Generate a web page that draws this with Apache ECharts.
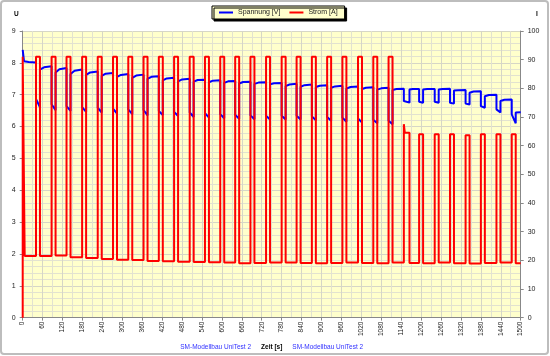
<!DOCTYPE html>
<html>
<head>
<meta charset="utf-8">
<script src="https://cdn.jsdelivr.net/npm/echarts@6/dist/echarts.min.js"></script>
<style>
html,body{margin:0;padding:0;background:#fff;}
#chart{width:550px;height:356px;}
</style>
</head>
<body>
<div id="chart"></div>
<script>
// ---- Data ----
const xTicks = { min: 0, max: 1500, step: 60 };
const leftTicks = { min: 0, max: 9, step: 1 };
const rightTicks = { min: 0, max: 100, step: 10 };

// start of the test
const initCurrent = [[0, 0], [0, 91], [6, 91]];
const initVolt = [[0, 8.41], [3, 8.38], [4, 8.05]];
const firstRestStart = 6;

// load pulses (s)
const pulseStart = [40, 87, 132, 179, 226, 272, 318, 364, 410, 456, 503, 549, 595, 640, 686, 733,
  780, 825, 871, 917, 963, 1010, 1056, 1102, 1148, 1194, 1241, 1287, 1334, 1380, 1427, 1473];
const pulseEnd = [52, 99, 144, 191, 238, 284, 330, 376, 422, 468, 515, 561, 607, 652, 698, 745,
  792, 837, 883, 929, 975, 1022, 1068, 1114, 1165, 1206, 1253, 1299, 1346, 1392, 1439, 1485];
const pulseCurrent = [91, 91, 91, 91, 91, 91, 91, 91, 91, 91, 91, 91, 91, 91, 91, 91,
  91, 91, 91, 91, 91, 91, 91, 91, 64.5, 64, 64, 64, 63.6, 64, 64, 64];
const spikeIndex = [24];
const spikeValue = [67.5];
const spikeEnd = [1151];

// current during the rest phases (33 phases, last one after final pulse)
const restCurrent = [21.5, 21.5, 21.7, 21.1, 20.8, 20.5, 20.2, 20.1, 19.8, 19.7, 19.5, 19.4, 19.3, 19.2, 19.0, 19.1,
  19.2, 19.2, 19.1, 19.0, 19.1, 19.2, 19.1, 19.0, 19.2, 19.1, 19.0, 19.2, 19.0, 18.9, 19.1, 19.2, 19.0];

// voltage at start / after recovery / end of each rest phase
const restVoltStart = [8.04, 7.79, 7.70, 7.65, 7.62, 7.59, 7.56, 7.53, 7.50, 7.45, 7.42, 7.41, 7.39, 7.37, 7.35, 7.34,
  7.33, 7.27, 7.25, 7.24, 7.22, 7.19, 7.18, 7.16, 7.15, 7.16, 7.16, 7.16, 7.13, 7.06, 6.95, 6.80, 6.44];
const restVoltMid = [8.03, 7.86, 7.80, 7.75, 7.70, 7.66, 7.62, 7.60, 7.56, 7.51, 7.48, 7.46, 7.44, 7.42, 7.40, 7.38,
  7.36, 7.32, 7.30, 7.28, 7.26, 7.24, 7.22, 7.20, 7.18, 7.18, 7.18, 7.18, 7.14, 7.10, 6.99, 6.84, 6.46];
const restVoltEnd = [8.01, 7.89, 7.84, 7.79, 7.73, 7.68, 7.65, 7.63, 7.58, 7.53, 7.50, 7.47, 7.45, 7.43, 7.41, 7.39,
  7.37, 7.34, 7.32, 7.30, 7.28, 7.26, 7.23, 7.22, 7.19, 7.18, 7.18, 7.19, 7.15, 7.11, 7.00, 6.85, 6.45];
// voltage at start / end of each load pulse
const pulseVoltStart = [6.87, 6.70, 6.64, 6.61, 6.59, 6.56, 6.54, 6.52, 6.49, 6.46, 6.44, 6.42, 6.39, 6.37, 6.35, 6.34,
  6.34, 6.34, 6.32, 6.30, 6.28, 6.25, 6.21, 6.18, 6.80, 6.78, 6.78, 6.75, 6.72, 6.64, 6.54, 6.38];
const pulseVoltEnd = [6.60, 6.51, 6.49, 6.46, 6.44, 6.41, 6.39, 6.35, 6.36, 6.33, 6.30, 6.28, 6.26, 6.24, 6.23, 6.22,
  6.22, 6.22, 6.20, 6.18, 6.15, 6.13, 6.10, 6.07, 6.75, 6.75, 6.75, 6.72, 6.69, 6.59, 6.44, 6.10];

const seriesNames = ['Spannung [V]', 'Strom [A]'];

// ---- build line point lists from the values above ----
function buildSeries() {
  const cur = initCurrent.slice();
  const volt = initVolt.slice();
  let prevEnd = firstRestStart;
  for (let i = 0; i < pulseStart.length; i++) {
    const s = pulseStart[i], e = pulseEnd[i];
    cur.push([prevEnd, restCurrent[i]], [s, restCurrent[i]]);
    const k = spikeIndex.indexOf(i);
    if (k >= 0) {
      cur.push([s, spikeValue[k]], [spikeEnd[k], pulseCurrent[i]]);
    } else {
      cur.push([s, pulseCurrent[i]]);
    }
    cur.push([e, pulseCurrent[i]]);
    volt.push([prevEnd, restVoltStart[i]], [prevEnd + (s - prevEnd) * 0.35, restVoltMid[i]], [s, restVoltEnd[i]]);
    volt.push([s, pulseVoltStart[i]], [e, pulseVoltEnd[i]]);
    prevEnd = e;
  }
  const n = pulseStart.length;
  cur.push([prevEnd, restCurrent[n]], [xTicks.max, restCurrent[n]]);
  volt.push([prevEnd, restVoltStart[n]], [prevEnd + (xTicks.max - prevEnd) * 0.35, restVoltMid[n]], [xTicks.max, restVoltEnd[n]]);
  return { cur, volt };
}
const built = buildSeries();

const FONT = 'Liberation Sans, Arial, sans-serif';
const chart = echarts.init(document.getElementById('chart'), null, { renderer: 'canvas' });
const gridColor = '#d6d6c6';
const minorColor = '#e2e2d0';

chart.setOption({
  animation: false,
  backgroundColor: '#ffffff',
  textStyle: { fontFamily: FONT },
  grid: { left: 22.7, right: 29.3, top: 31, bottom: 36, show: true, backgroundColor: '#ffffcc', borderWidth: 0 },
  legend: {
    data: [
      { name: seriesNames[0], icon: 'rect' },
      { name: seriesNames[1], icon: 'rect' }
    ],
    left: 212, top: 6,
    padding: [3, 7, 3, 7],
    itemGap: 9, itemWidth: 14, itemHeight: 2,
    backgroundColor: '#ffffcc', borderColor: '#000', borderWidth: 1,
    shadowColor: '#000', shadowBlur: 0, shadowOffsetX: 2, shadowOffsetY: 2,
    textStyle: { fontSize: 7, color: '#222', fontFamily: FONT }
  },
  xAxis: {
    type: 'value', min: xTicks.min, max: xTicks.max, interval: xTicks.step,
    axisLine: { show: true, lineStyle: { color: '#888', width: 1 } },
    axisTick: { show: true, length: 3, lineStyle: { color: '#888' } },
    axisLabel: { rotate: 90, fontSize: 6.5, color: '#222', margin: 4, fontFamily: FONT, formatter: v => String(v) },
    splitLine: { show: true, lineStyle: { color: gridColor, width: 1 } },
    minorTick: { show: false, splitNumber: 2 },
    minorSplitLine: { show: true, lineStyle: { color: minorColor, width: 1 } },
    name: '{b|SM-Modellbau UniTest 2}{z|Zeit [s]}{b|SM-Modellbau UniTest 2}',
    nameLocation: 'middle', nameGap: 17,
    nameTextStyle: {
      rich: {
        b: { color: '#3030ff', fontSize: 6.5, fontFamily: FONT },
        z: { color: '#000', fontSize: 6.5, fontWeight: 'bold', fontFamily: FONT, padding: [0, 10, 0, 10] }
      }
    }
  },
  yAxis: [
    {
      type: 'value', min: leftTicks.min, max: leftTicks.max, interval: leftTicks.step, position: 'left',
      axisLine: { show: true, lineStyle: { color: '#888' } },
      axisTick: { show: true, length: 3, lineStyle: { color: '#888' } },
      axisLabel: { fontSize: 7, color: '#222', margin: 7, fontFamily: FONT },
      splitLine: { show: true, lineStyle: { color: gridColor } },
      minorTick: { show: false, splitNumber: 5 },
      minorSplitLine: { show: true, lineStyle: { color: minorColor } }
    },
    {
      type: 'value', min: rightTicks.min, max: rightTicks.max, interval: rightTicks.step, position: 'right',
      axisLine: { show: true, lineStyle: { color: '#888' } },
      axisTick: { show: true, length: 3, lineStyle: { color: '#888' } },
      axisLabel: { fontSize: 7, color: '#222', margin: 7, fontFamily: FONT },
      splitLine: { show: false }
    }
  ],
  graphic: [
    { type: 'rect', shape: { x: 1, y: 1, width: 547, height: 353, r: 3 }, style: { fill: 'none', stroke: '#bdbdbd', lineWidth: 2 }, silent: true, z: 100 },
    { type: 'text', left: 14, top: 11, style: { text: 'U', fontSize: 6.5, fontWeight: 'bold', fill: '#000', fontFamily: FONT } },
    { type: 'text', left: 536, top: 11, style: { text: 'I', fontSize: 6.5, fontWeight: 'bold', fill: '#000', fontFamily: FONT } }
  ],
  series: [
    {
      name: seriesNames[0], type: 'line', yAxisIndex: 0, data: built.volt,
      symbol: 'none', lineStyle: { color: '#0000ff', width: 2 }, itemStyle: { color: '#0000ff' }, z: 2
    },
    {
      name: seriesNames[1], type: 'line', yAxisIndex: 1, data: built.cur,
      symbol: 'none', lineStyle: { color: '#ff0000', width: 2 }, itemStyle: { color: '#ff0000' }, z: 3
    }
  ]
});
</script>
</body>
</html>
